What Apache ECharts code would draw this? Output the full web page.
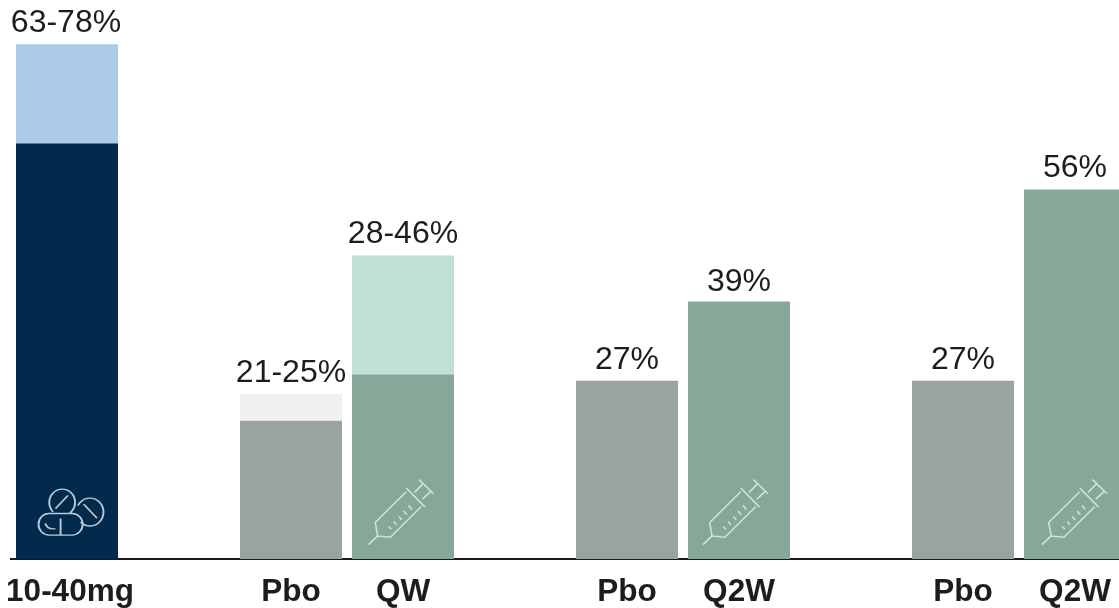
<!DOCTYPE html>
<html>
<head>
<meta charset="utf-8">
<style>html,body{margin:0;padding:0;background:#fff}#chart{width:1119px;height:608px}</style>
<script src="https://cdn.jsdelivr.net/npm/echarts@6/dist/echarts.min.js"></script>
</head>
<body>
<div id="chart"></div>
<script>
// Response rates by treatment arm; null marks the spacer slots between groups.
const categories = ['10-40mg', '', 'Pbo', 'QW', '', 'Pbo', 'Q2W', '', 'Pbo', 'Q2W'];
const rateLow = [63, null, 21, 28, null, 27, 39, null, 27, 56];
const rateHigh = [78, null, 25, 46, null, 27, 39, null, 27, 56];
const solidColors = ['#012a4c', null, '#99a3a0', '#85a899', null, '#99a3a0', '#85a899', null, '#99a3a0', '#85a899'];
const rangeColors = ['#adcbe9', null, '#f0f0f0', '#bee0d6', null, null, null, null, null, null];

// Outline icons drawn as scatter symbols.
const pillIcon = 'path://M158 157A38 38 0 1 1 208 160M165 148L202 110M239 187A40 40 0 1 0 231 139M248 135L287 175' +
  'M146 162L214 162A31 31 0 0 1 214 224L146 224A31 31 0 0 1 146 162ZM180 176L180 224M135 190C138 202 150 207 165 206';
const syringeIcon = 'path://M88 254L115 228L108 188L200 96M115 228L153 232L245 140M200 85L256 142M225 98L250 72M248 118L273 95' +
  'M238 60L281 102M148 200L156 208M163 185L171 195M178 170L187 180M192 154L202 165M207 137L217 149';
const pillSlots = [0];
const syringeSlots = [3, 6, 9];
const iconLevel = 7.1;

const rangeLabels = rateLow.map((low, i) => {
  if (low === null) return '';
  return low === rateHigh[i] ? low + '%' : low + '-' + rateHigh[i] + '%';
});
const textColor = '#1d1d1b';
const fontFamily = '"Liberation Sans", Arial, sans-serif';

// Small per-item nudges for the syringes and value labels.
const syringeShift = { 3: -2, 6: -3.5, 9: -0.5 };
const labelShift = { 0: [-1, 0], 6: [0, 2] };

const chart = echarts.init(document.getElementById('chart'), null, { renderer: 'canvas' });
chart.setOption({
  animation: false,
  backgroundColor: '#ffffff',
  grid: { left: 11, width: 1120, top: 31, height: 528, containLabel: false, outerBoundsMode: 'none' },
  xAxis: {
    type: 'category',
    data: categories.map((c, i) => i === 0 ? { value: c, textStyle: { padding: [0, 0, 0, 6] } } : c),
    axisTick: { show: false },
    axisLine: { lineStyle: { color: '#1a1a1a', width: 2, cap: 'square' } },
    axisLabel: {
      interval: 0,
      margin: 17,
      color: textColor,
      fontFamily,
      fontSize: 31.5,
      fontWeight: 'bold'
    }
  },
  yAxis: { type: 'value', min: 0, max: 80, show: false },
  series: [
    {
      type: 'bar',
      stack: 'rate',
      barWidth: 102,
      data: rateLow.map((v, i) => ({ value: v, itemStyle: { color: solidColors[i] } }))
    },
    {
      type: 'bar',
      stack: 'rate',
      barWidth: 102,
      data: rateHigh.map((v, i) => ({
        value: v === null ? null : v - rateLow[i],
        itemStyle: { color: rangeColors[i] || 'transparent' },
        label: { offset: labelShift[i] || [0, 0] }
      })),
      label: {
        show: true,
        position: 'top',
        distance: 5,
        color: textColor,
        fontFamily,
        fontSize: 32,
        formatter: p => rangeLabels[p.dataIndex]
      }
    },
    {
      type: 'scatter',
      symbol: pillIcon,
      symbolSize: [65, 46],
      symbolOffset: [4, 0],
      itemStyle: { color: 'transparent', borderColor: '#eef2f5', borderWidth: 1.6 },
      data: pillSlots.map(s => [s, iconLevel]),
      z: 5
    },
    {
      type: 'scatter',
      symbol: syringeIcon,
      symbolSize: [65, 65],
      itemStyle: { color: 'transparent', borderColor: '#e6efea', borderWidth: 1.6 },
      data: syringeSlots.map(s => ({ value: [s, iconLevel], symbolOffset: [syringeShift[s], 0] })),
      z: 5
    }
  ]
});
</script>
</body>
</html>
